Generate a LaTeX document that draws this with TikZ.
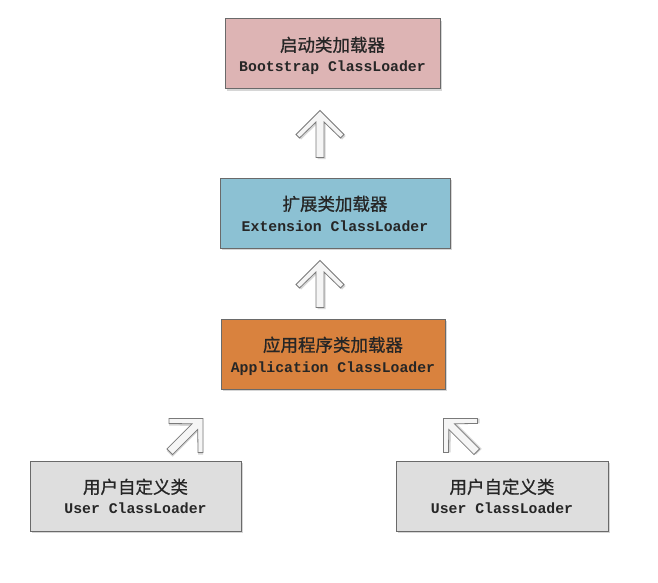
\documentclass[tikz,border=0pt]{standalone}
\usepackage{fontspec}
\newfontfamily\cjk[FakeBold=0.8]{Noto Sans CJK SC}
\newfontfamily\mono{Liberation Mono}
\usetikzlibrary{calc}
\definecolor{bootfill}{HTML}{DDB4B4}
\definecolor{extfill}{HTML}{8CC1D3}
\definecolor{appfill}{HTML}{D9823E}
\definecolor{userfill}{HTML}{DEDEDE}
\definecolor{boxline}{HTML}{6A6A6A}
\definecolor{txt}{HTML}{262626}
\definecolor{arrowline}{HTML}{7A7A7A}
\definecolor{arrowfill}{HTML}{F5F5F5}
\definecolor{shadowc}{HTML}{D6D6D6}
\tikzset{
  loader/.style={draw=boxline, line width=1pt, inner sep=0pt,
    minimum width=#1, minimum height=70pt},
  zh/.style={anchor=base, text=txt, inner sep=0pt, font=\cjk\fontsize{17.5}{20}\selectfont},
  en/.style={anchor=base, text=txt, inner sep=0pt, font=\mono\bfseries\fontsize{14.8}{18}\selectfont},
  blockarrow/.pic={
    \fill[shadowc] ([shift={(1.5,1.5)}]0,0) -- ++(-24,24) -- ++(3.5,3.5) -- ++(16.5,-16) -- ++(0,35.5) -- ++(8,0) -- ++(0,-35.5) -- ++(16.5,16) -- ++(3.5,-3.5) -- cycle;
    \draw[arrowline, fill=arrowfill, line width=0.8pt, line join=miter]
      (0,0) -- (-24,24) -- (-20.5,27.5) -- (-4,11.5) -- (-4,47) -- (4,47) -- (4,11.5) -- (20.5,27.5) -- (24,24) -- cycle;
  }
}
\begin{document}
\begin{tikzpicture}[x=1pt,y=-1pt]
\useasboundingbox (0,0) rectangle (658,583);
\fill[white] (0,0) rectangle (658,583);
% shadows
\fill[shadowc] (227,21) rectangle (442,91);
\fill[shadowc] (222,180) rectangle (452,250);
\fill[shadowc] (223,321) rectangle (447,391);
\fill[shadowc] (32,463) rectangle (243,533);
\fill[shadowc] (398,463) rectangle (610,533);
% boxes
\node[loader=215pt, fill=bootfill] (boot) at (332.5,54) {};
\node[loader=230pt, fill=extfill] (ext) at (335,213) {};
\node[loader=224pt, fill=appfill] (app) at (333,354) {};
\node[loader=211pt, fill=userfill] (userL) at (135.5,496) {};
\node[loader=212pt, fill=userfill] (userR) at (502,496) {};
% texts
\node[zh] (bootzh) at ($(boot.center)+(0,-2.5)$) {启动类加载器};
\node[en] (booten) at ($(boot.center)+(0,18)$) {Bootstrap ClassLoader};
\node[zh] (extzh) at ($(ext.center)+(0,-2.5)$) {扩展类加载器};
\node[en] (exten) at ($(ext.center)+(0,18)$) {Extension ClassLoader};
\node[zh] (appzh) at ($(app.center)+(0,-2.5)$) {应用程序类加载器};
\node[en] (appen) at ($(app.center)+(0,18)$) {Application ClassLoader};
\node[zh] (userLzh) at ($(userL.center)+(0,-2.5)$) {用户自定义类};
\node[en] (userLen) at ($(userL.center)+(0,17)$) {User ClassLoader};
\node[zh] (userRzh) at ($(userR.center)+(0,-2.5)$) {用户自定义类};
\node[en] (userRen) at ($(userR.center)+(0,17)$) {User ClassLoader};
% block arrows (child -> parent)
\coordinate (a1) at ($(boot.south)+(-12.5,21)$);
\coordinate (a2) at ($(ext.south)+(-15,12)$);
\coordinate (a3) at ($(userL.north)+(67.5,-42)$);
\coordinate (a4) at ($(userR.north)+(-58.5,-42)$);
\pic at (a1) {blockarrow};
\pic at (a2) {blockarrow};
\pic[rotate=-45] at (a3) {blockarrow};
\pic[rotate=45] at (a4) {blockarrow};
\end{tikzpicture}
\end{document}
